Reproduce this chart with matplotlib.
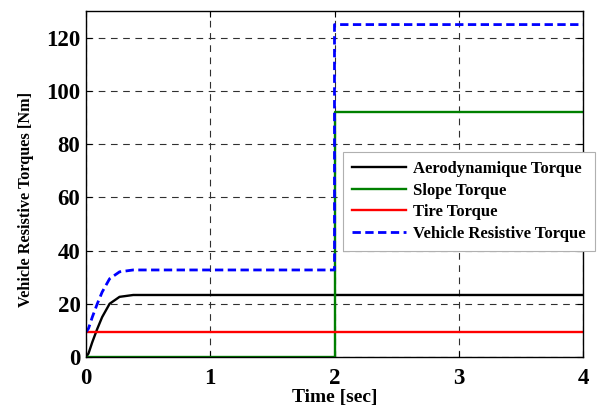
import matplotlib
matplotlib.use("Agg")
import matplotlib.pyplot as plt
import numpy as np

# values
t = np.array([0, 0.02, 0.05, 0.09, 0.13, 0.19, 0.27, 0.38, 2, 2, 4])
aero = np.array([0, 1.3, 5.5, 10.5, 15.0, 20.0, 22.6, 23.3, 23.3, 23.3, 23.3])
slope = np.array([0, 0, 0, 0, 0, 0, 0, 0, 0, 92.2, 92.2])
tire = np.full(len(t), 9.4)
total = aero + slope + tire

xticks = [0, 1, 2, 3, 4]
yticks = [0, 20, 40, 60, 80, 100, 120]

plt.rcParams['font.family'] = ['Liberation Serif', 'DejaVu Serif']
plt.rcParams['font.weight'] = 'bold'

fig = plt.figure(figsize=(6.02, 4.08), dpi=100)
ax = fig.add_axes([86/602, 1-357/408, (583-86)/602, (357-11)/408])

ax.plot(t, aero, color='black', lw=1.7, label='Aerodynamique Torque')
ax.plot(t, slope, color='#008000', lw=1.7, label='Slope Torque')
ax.plot(t, tire, color='red', lw=1.7, label='Tire Torque')
ax.plot(t, total, color='blue', lw=2, ls=(0, (3, 1.6)), label='Vehicle Resistive Torque')

ax.set_xlim(0, 4)
ax.set_ylim(0, 130)
ax.set_xticks(xticks)
ax.set_yticks(yticks)
ax.grid(True, color='#303030', ls=(0, (6, 5)), lw=0.8)
ax.tick_params(direction='in', top=True, right=True, labelsize=16.5, length=4)
ax.tick_params(axis='x', pad=8)
ax.tick_params(axis='y', pad=4)
for s in ax.spines.values():
    s.set_linewidth(1.0)
    s.set_color('black')

ax.set_xlabel('Time [sec]', fontsize=14, fontweight='bold', labelpad=0)
ax.set_ylabel('Vehicle Resistive Torques [Nm]', fontsize=11.7, fontweight='bold')
ax.yaxis.set_label_coords(-0.105, 0.455)

leg = fig.legend(loc='upper left', bbox_to_anchor=(343/602, 1-152/408),
                 borderaxespad=0, fontsize=12, frameon=True, fancybox=False,
                 handlelength=3.2, borderpad=0.55, labelspacing=0.33,
                 handletextpad=0.45)
leg.get_frame().set_edgecolor('#b0b0b0')
leg.get_frame().set_linewidth(0.8)
leg.get_frame().set_alpha(1)

fig.savefig('out.png', dpi=100)
